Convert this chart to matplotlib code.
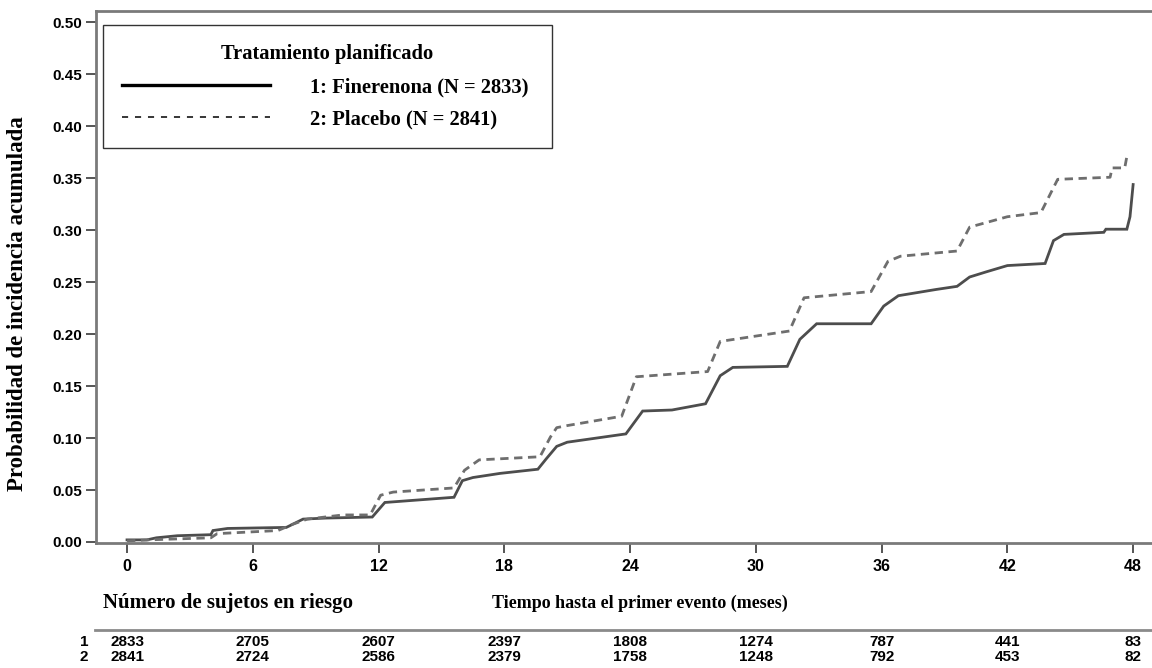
import matplotlib
matplotlib.use("Agg")
import matplotlib.pyplot as plt
from matplotlib.lines import Line2D

# ---------------- data ----------------
fin_t = [0.0, 0.95, 1.4, 2.4, 4.0, 4.1, 4.8, 7.6, 8.4, 9.5, 11.7, 12.3, 15.6, 16.0, 16.5, 17.8,
         19.6, 20.0, 20.5, 21.0, 23.8, 24.6, 26.0, 27.6, 28.3, 28.9, 31.5, 32.1, 32.9, 35.5,
         36.1, 36.8, 38.6, 39.6, 40.2, 41.0, 42.0, 43.8, 44.2, 44.7, 46.6, 46.7, 47.7, 47.85, 48.0]
fin_v = [0.002, 0.002, 0.004, 0.006, 0.007, 0.011, 0.013, 0.014, 0.022, 0.023, 0.024, 0.038,
         0.043, 0.059, 0.062, 0.066, 0.070, 0.080, 0.092, 0.096, 0.104, 0.126, 0.127, 0.133,
         0.160, 0.168, 0.169, 0.195, 0.210, 0.210, 0.227, 0.237, 0.243, 0.246, 0.255, 0.260,
         0.266, 0.268, 0.290, 0.296, 0.298, 0.301, 0.301, 0.313, 0.344]

pla_t = [0.0, 1.0, 4.0, 4.3, 7.2, 7.9, 8.6, 10.3, 11.6, 12.1, 12.7, 15.6, 16.1, 16.8, 19.7,
         20.2, 20.5, 21.0, 23.6, 24.3, 27.7, 28.3, 31.6, 32.3, 35.5, 36.3, 36.9, 39.6, 40.2,
         42.0, 43.6, 44.4, 46.9, 47.0, 47.6, 47.7, 47.8]
pla_v = [0.001, 0.002, 0.004, 0.008, 0.011, 0.017, 0.022, 0.026, 0.026, 0.045, 0.048, 0.052,
         0.069, 0.079, 0.082, 0.101, 0.110, 0.112, 0.121, 0.159, 0.164, 0.193, 0.203, 0.235,
         0.241, 0.270, 0.275, 0.280, 0.303, 0.313, 0.317, 0.349, 0.351, 0.360, 0.360, 0.371, 0.371]

x_ticks = [0, 6, 12, 18, 24, 30, 36, 42, 48]
y_ticks = [0.00, 0.05, 0.10, 0.15, 0.20, 0.25, 0.30, 0.35, 0.40, 0.45, 0.50]

risk_fin = [2833, 2705, 2607, 2397, 1808, 1274, 787, 441, 83]
risk_pla = [2841, 2724, 2586, 2379, 1758, 1248, 792, 453, 82]

legend_title = "Tratamiento planificado"
label_fin = "1: Finerenona (N = 2833)"
label_pla = "2: Placebo (N = 2841)"

# ---------------- figure ----------------
W, H = 1152, 668
fig = plt.figure(figsize=(W / 100, H / 100), dpi=100)
ax = fig.add_axes([96 / W, 1 - 543 / H, (1152 - 96) / W, (543 - 11) / H])
ax.set_xlim(-1.48, 48.9)
ax.set_ylim(-0.001, 0.511)

ax.plot(fin_t, fin_v, color="#4d4d4d", lw=2.0, solid_joinstyle="miter")
ax.plot(pla_t, pla_v, color="#6e6e6e", lw=2.0, linestyle=(0, (3.0, 2.0)))

serif = ["Liberation Serif", "DejaVu Serif"]
sans = ["Liberation Sans", "DejaVu Sans"]

ax.set_xticks(x_ticks)
ax.set_xticklabels([str(v) for v in x_ticks], family=sans, weight="bold", fontsize=11.5)
ax.set_yticks(y_ticks)
ax.set_yticklabels([f"{v:.2f}" for v in y_ticks], family=sans, weight="bold", fontsize=11)
ax.tick_params(axis="x", direction="out", length=7.2, width=1.4, color="#555555", pad=4.5)
ax.tick_params(axis="y", direction="out", length=7.2, width=1.4, color="#555555", pad=3)

for s in ["left", "bottom", "top"]:
    ax.spines[s].set_color("#7a7a7a")
    ax.spines[s].set_linewidth(2)
ax.spines["right"].set_visible(False)

# legend
h1 = Line2D([], [], color="black", lw=2.4)
h2 = Line2D([], [], color="black", lw=1.1, linestyle=(0, (4, 4.5)))
leg = ax.legend([h1, h2], [label_fin + " ", label_pla], title=legend_title,
                loc="upper left", bbox_to_anchor=(103 / W, 1 - 25 / H),
                bbox_transform=fig.transFigure, frameon=True, fancybox=False,
                handlelength=7.2, handletextpad=1.95, borderpad=0.9, labelspacing=0.6,
                prop={"family": serif, "weight": "bold", "size": 14.8},
                title_fontproperties={"family": serif, "weight": "bold", "size": 14.8},
                borderaxespad=0)
leg.get_frame().set_edgecolor("black")
leg.get_frame().set_linewidth(1.0)
leg._legend_box.sep = leg._legend_box.sep + 1

# axis titles
fig.text(18 / W, 1 - 304 / H, "Probabilidad de incidencia acumulada", rotation=90,
         ha="center", va="center", family=serif, weight="bold", fontsize=16.5)
fig.text(640 / W, 1 - 603 / H, "Tiempo hasta el primer evento (meses)",
         ha="center", va="center", family=serif, weight="bold", fontsize=13)
fig.text(103 / W, 1 - 603 / H, "Número de sujetos en riesgo",
         ha="left", va="center", family=serif, weight="bold", fontsize=15)

# risk table
fig.add_artist(Line2D([95 / W, 1.0], [1 - 630 / H, 1 - 630 / H], color="#8a8a8a", lw=2))
for row, (lab, vals) in enumerate([("1", risk_fin), ("2", risk_pla)]):
    yfig = 1 - (642 + 15 * row) / H
    fig.text(84 / W, yfig, lab, ha="center", va="center", family=sans,
             weight="bold", fontsize=11)
    for t, n in zip(x_ticks, vals):
        xf = fig.transFigure.inverted().transform(ax.transData.transform((t, 0)))[0]
        fig.text(xf, yfig, str(n), ha="center", va="center", family=sans,
                 weight="bold", fontsize=11)

fig.savefig("out.png", dpi=100)
